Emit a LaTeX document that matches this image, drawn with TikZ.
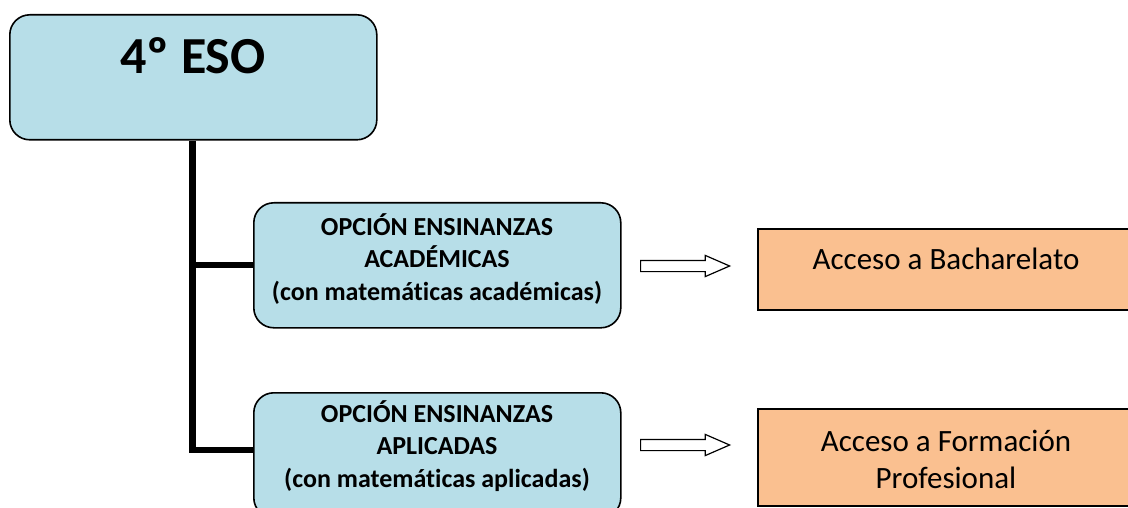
\documentclass[tikz,border=0pt]{standalone}
\usepackage{fontspec}
\setmainfont[Ligatures=NoCommon]{Carlito}
\usetikzlibrary{shapes.arrows}
\definecolor{boxblue}{HTML}{B7DEE8}
\definecolor{boxorange}{HTML}{FAC090}
\tikzset{
  bluebox/.style={draw=black, line width=1.6pt, fill=boxblue, rounded corners=20pt, inner sep=0pt, anchor=north west},
  orangebox/.style={draw=black, line width=2.2pt, fill=boxorange, inner sep=0pt, anchor=north west},
  trunk/.style={line width=6.5pt},
  hollowarrow/.style={single arrow, draw=black, line width=1.2pt, fill=white, inner xsep=0pt, inner ysep=5pt,
    single arrow head extend=5pt, single arrow tip angle=47, minimum height=89pt, anchor=west},
  bluetext/.style={font=\fontsize{26}{32.5}\selectfont\bfseries, align=center},
  orangetext/.style={font=\fontsize{31}{37}\selectfont, align=center},
}
\begin{document}
\begin{tikzpicture}[x=1pt, y=-1pt]
\useasboundingbox (0,0) rectangle (1128,508);
% top box
\node[bluebox, minimum width=367pt, minimum height=125pt] (eso) at (9,14) {};
\node[font=\fontsize{52}{60}\selectfont\bfseries] (esot) at (193,56) {4º ESO};
% option boxes
\node[bluebox, minimum width=367pt, minimum height=125pt] (aca) at (253,202) {};
\node[bluetext] (acat) at (437,259) {OPCIÓN ENSINANZAS\\ACADÉMICAS\\(con matemáticas académicas)};
\node[bluebox, minimum width=367pt, minimum height=125pt] (apl) at (253,392) {};
\node[bluetext] (aplt) at (437,446) {OPCIÓN ENSINANZAS\\APLICADAS\\(con matemáticas aplicadas)};
% trunk
\coordinate (jA) at (192.5,265);
\coordinate (jB) at (192.5,450);
\draw[trunk] (eso.south -| jA) -- (jB) -- (jB -| apl.west);
\draw[trunk] (jA) -- (jA -| aca.west);
% arrows
\node[hollowarrow] (arA) at (640,266) {};
\node[hollowarrow] (arB) at (640,445) {};
% result boxes
\node[orangebox, minimum width=380pt, minimum height=81pt] (bach) at (757,228) {};
\node[orangetext] (bacht) at (946,259) {Acceso a Bacharelato};
\node[orangebox, minimum width=380pt, minimum height=97pt] (fp) at (757,408) {};
\node[orangetext] (fpt) at (946,459) {Acceso a Formación\\Profesional};
\end{tikzpicture}
\end{document}
